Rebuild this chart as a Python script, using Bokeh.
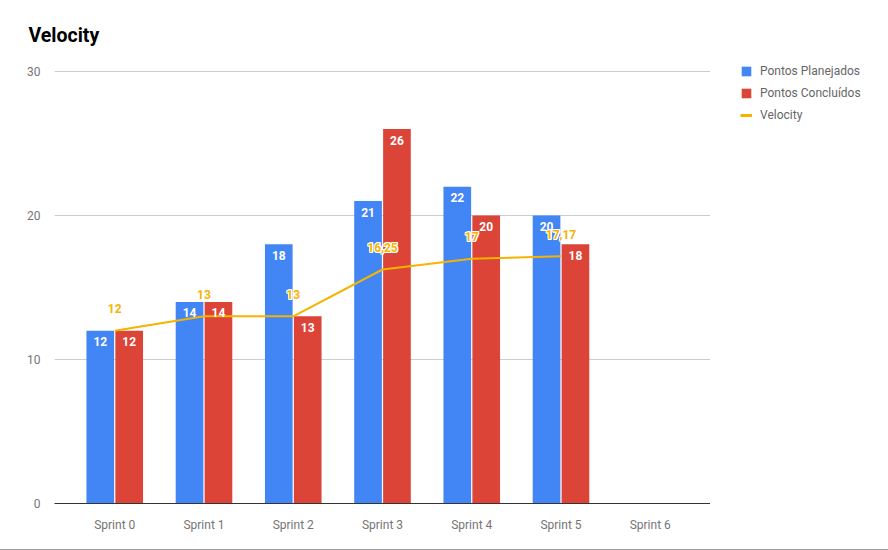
from bokeh.plotting import figure
from bokeh.layouts import row
from bokeh.models import ColumnDataSource, FactorRange, Range1d, FixedTicker, Legend, LegendItem
from bokeh.transform import dodge
from bokeh.core.properties import value
from bokeh.embed import file_html
from bokeh.resources import INLINE

sprints = ["Sprint 0", "Sprint 1", "Sprint 2", "Sprint 3", "Sprint 4", "Sprint 5", "Sprint 6"]
data_sprints = ["Sprint 0", "Sprint 1", "Sprint 2", "Sprint 3", "Sprint 4", "Sprint 5"]
planned = [12, 14, 18, 21, 22, 20]
done = [12, 14, 13, 26, 20, 18]
velocity = [12, 13, 13, 16.25, 17, 17.17]
y_ticks = [0, 10, 20, 30]
series_names = ["Pontos Planejados", "Pontos Concluídos", "Velocity"]

BLUE = "#4285f4"
RED = "#db4437"
YELLOW = "#f4b400"
FONT = "Roboto"

src = ColumnDataSource(dict(
    x=data_sprints,
    planned=planned,
    done=done,
    velocity=velocity,
    planned_s=[str(v) for v in planned],
    done_s=[str(v) for v in done],
    velocity_s=[("%g" % v).replace(".", ",") for v in velocity],
))

p = figure(
    x_range=FactorRange(*sprints, range_padding=0.05),
    y_range=Range1d(0, 30.764),
    width=710, height=549,
    output_backend="svg", toolbar_location=None,
    min_border_left=54, min_border_right=0, min_border_top=60, min_border_bottom=46,
)
p.outline_line_color = None
p.background_fill_color = "white"
p.border_fill_color = "white"

p.title.text = "Velocity"
p.title.text_font = FONT
p.title.text_font_size = "19.5px"
p.title.text_font_style = "bold"
p.title.text_color = "#000000"
p.title.align = "left"
p.title.offset = -26
p.title.standoff = 28

OFF = 0.162
W = 0.31
p.vbar(x=dodge("x", -OFF, range=p.x_range), top="planned", width=W, source=src,
       fill_color=BLUE, line_color=None)
p.vbar(x=dodge("x", OFF, range=p.x_range), top="done", width=W, source=src,
       fill_color=RED, line_color=None)
p.line(x="x", y="velocity", source=src, line_color=YELLOW, line_width=2)

for xo, yo in [(-1, -1), (0, -1), (1, -1), (-1, 0), (1, 0), (-1, 1), (0, 1), (1, 1)]:
    p.text(x="x", y="velocity", text="velocity_s", source=src,
           text_color="white", text_font=value(FONT), text_font_size="12px", text_font_style="bold",
           text_align="center", text_baseline="middle", x_offset=xo, y_offset=-22 + yo)

p.text(x=dodge("x", -OFF, range=p.x_range), y="planned", text="planned_s", source=src,
       text_color="white", text_font=value(FONT), text_font_size="12px", text_font_style="bold",
       text_align="center", text_baseline="middle", y_offset=11)
p.text(x=dodge("x", OFF, range=p.x_range), y="done", text="done_s", source=src,
       text_color="white", text_font=value(FONT), text_font_size="12px", text_font_style="bold",
       text_align="center", text_baseline="middle", y_offset=11)
p.text(x="x", y="velocity", text="velocity_s", source=src,
       text_color=YELLOW, text_font=value(FONT), text_font_size="12px", text_font_style="bold",
       text_align="center", text_baseline="middle", y_offset=-22)

p.xgrid.grid_line_color = None
p.ygrid.grid_line_color = "#cccccc"
p.ygrid.ticker = FixedTicker(ticks=y_ticks)

p.yaxis.ticker = FixedTicker(ticks=y_ticks)
p.yaxis.axis_line_color = None
p.yaxis.major_tick_line_color = None
p.yaxis.minor_tick_line_color = None
p.yaxis.major_label_text_font = FONT
p.yaxis.major_label_text_font_size = "12px"
p.yaxis.major_label_text_color = "#757575"
p.yaxis.major_label_standoff = 8

p.xaxis.axis_line_color = "#333333"
p.xaxis.axis_line_width = 1
p.xaxis.major_tick_line_color = None
p.xaxis.minor_tick_line_color = None
p.xaxis.major_label_text_font = FONT
p.xaxis.major_label_text_font_size = "12px"
p.xaxis.major_label_text_color = "#757575"
p.xaxis.major_label_standoff = 8

# legend panel (dummy renderers placed outside the visible range, only for legend glyphs)
p2 = figure(width=178, height=549, output_backend="svg", toolbar_location=None,
            x_range=Range1d(0, 1), y_range=Range1d(0, 1),
            x_axis_location=None, y_axis_location=None,
            min_border_left=0, min_border_right=0, min_border_top=0, min_border_bottom=0)
p2.outline_line_color = None
p2.grid.grid_line_color = None
p2.background_fill_color = "white"
p2.border_fill_color = "white"
lb = p2.vbar(x=[5], top=[5], bottom=[4], width=0.1, fill_color=BLUE, line_color=None)
lr = p2.vbar(x=[5], top=[5], bottom=[4], width=0.1, fill_color=RED, line_color=None)
ll = p2.line(x=[5, 6], y=[5, 5], line_color=YELLOW, line_width=3)

legend = Legend(items=[
    LegendItem(label=series_names[0], renderers=[lb]),
    LegendItem(label=series_names[1], renderers=[lr]),
    LegendItem(label=series_names[2], renderers=[ll]),
], location=(30, 381))
legend.label_text_font = FONT
legend.label_text_font_size = "12px"
legend.label_text_color = "#666666"
legend.glyph_width = 12
legend.glyph_height = 12
legend.label_height = 12
legend.spacing = 8
legend.label_standoff = 8
legend.border_line_color = None
legend.background_fill_alpha = 0
legend.padding = 0
legend.margin = 0
p2.add_layout(legend)

layout = row(p, p2)
layout.styles = {"border-bottom": "1px solid #9e9e9e"}

open("out.html", "w").write(file_html(layout, INLINE))
